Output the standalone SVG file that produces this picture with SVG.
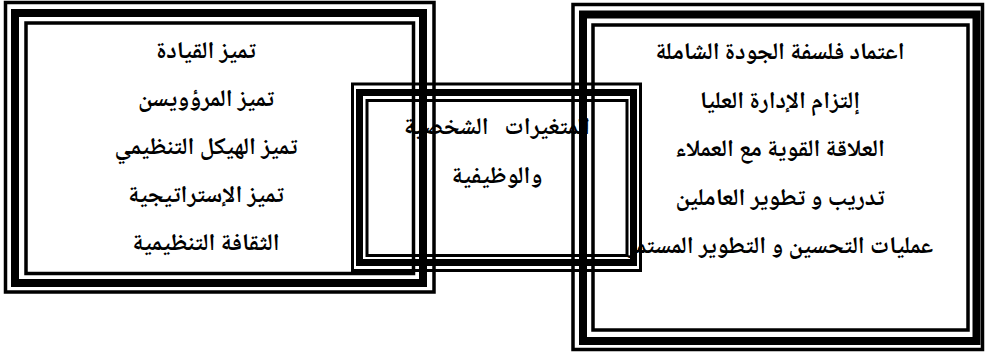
<svg xmlns="http://www.w3.org/2000/svg" width="991" height="355" viewBox="0 0 991 355">
<style>
  .thin { fill: none; stroke: #000; stroke-width: 3.5; }
  .thick { fill: none; stroke: #000; stroke-width: 8; }
  .mthin { fill: none; stroke: #000; stroke-width: 3; }
  .mthick { fill: none; stroke: #000; stroke-width: 7; }
  .t { font-family: "Noto Naskh Arabic", "Noto Sans Arabic", "DejaVu Sans", sans-serif; font-weight: bold; font-size: 24px; fill: #000; text-anchor: middle; direction: rtl; white-space: pre; }
</style>
<rect width="991" height="355" fill="#fff"/>
<g id="connectors"/>
<g id="box-left">
  <rect class="thin" x="5.5" y="2.5" width="428.5" height="289.5"/>
  <rect class="thick" x="15" y="13" width="408" height="270"/>
  <rect class="thin" x="26" y="23" width="387.5" height="250.5"/>
  <text class="t" x="206" y="58">تميز القيادة</text>
  <text class="t" x="206" y="106">تميز المرؤويسن</text>
  <text class="t" x="206" y="154">تميز الهيكل التنظيمي</text>
  <text class="t" x="206" y="202">تميز الإستراتيجية</text>
  <text class="t" x="206" y="250">الثقافة التنظيمية</text>
</g>
<g id="box-middle">
  <rect class="mthin" x="352.5" y="84" width="288" height="186.5"/>
  <rect class="mthick" x="359.5" y="92.5" width="274" height="170"/>
  <rect class="mthin" x="367" y="100.5" width="260" height="155"/>
  <text class="t" x="497" y="134">المتغيرات   الشخصية</text>
  <text class="t" x="497" y="183">والوظيفية</text>
</g>
<g id="box-right">
  <rect class="thin" x="573" y="4.5" width="409.5" height="345"/>
  <rect class="thick" x="583" y="14.5" width="393.5" height="326.5"/>
  <rect class="thin" x="593" y="25" width="375" height="305"/>
  <text class="t" x="780" y="59">اعتماد فلسفة الجودة الشاملة</text>
  <text class="t" x="780" y="108">إلتزام الإدارة العليا</text>
  <text class="t" x="780" y="156">العلاقة القوية مع العملاء</text>
  <text class="t" x="780" y="205">تدريب و تطوير العاملين</text>
  <text class="t" x="780" y="253">عمليات التحسين و التطوير المستمر</text>
</g>
</svg>
